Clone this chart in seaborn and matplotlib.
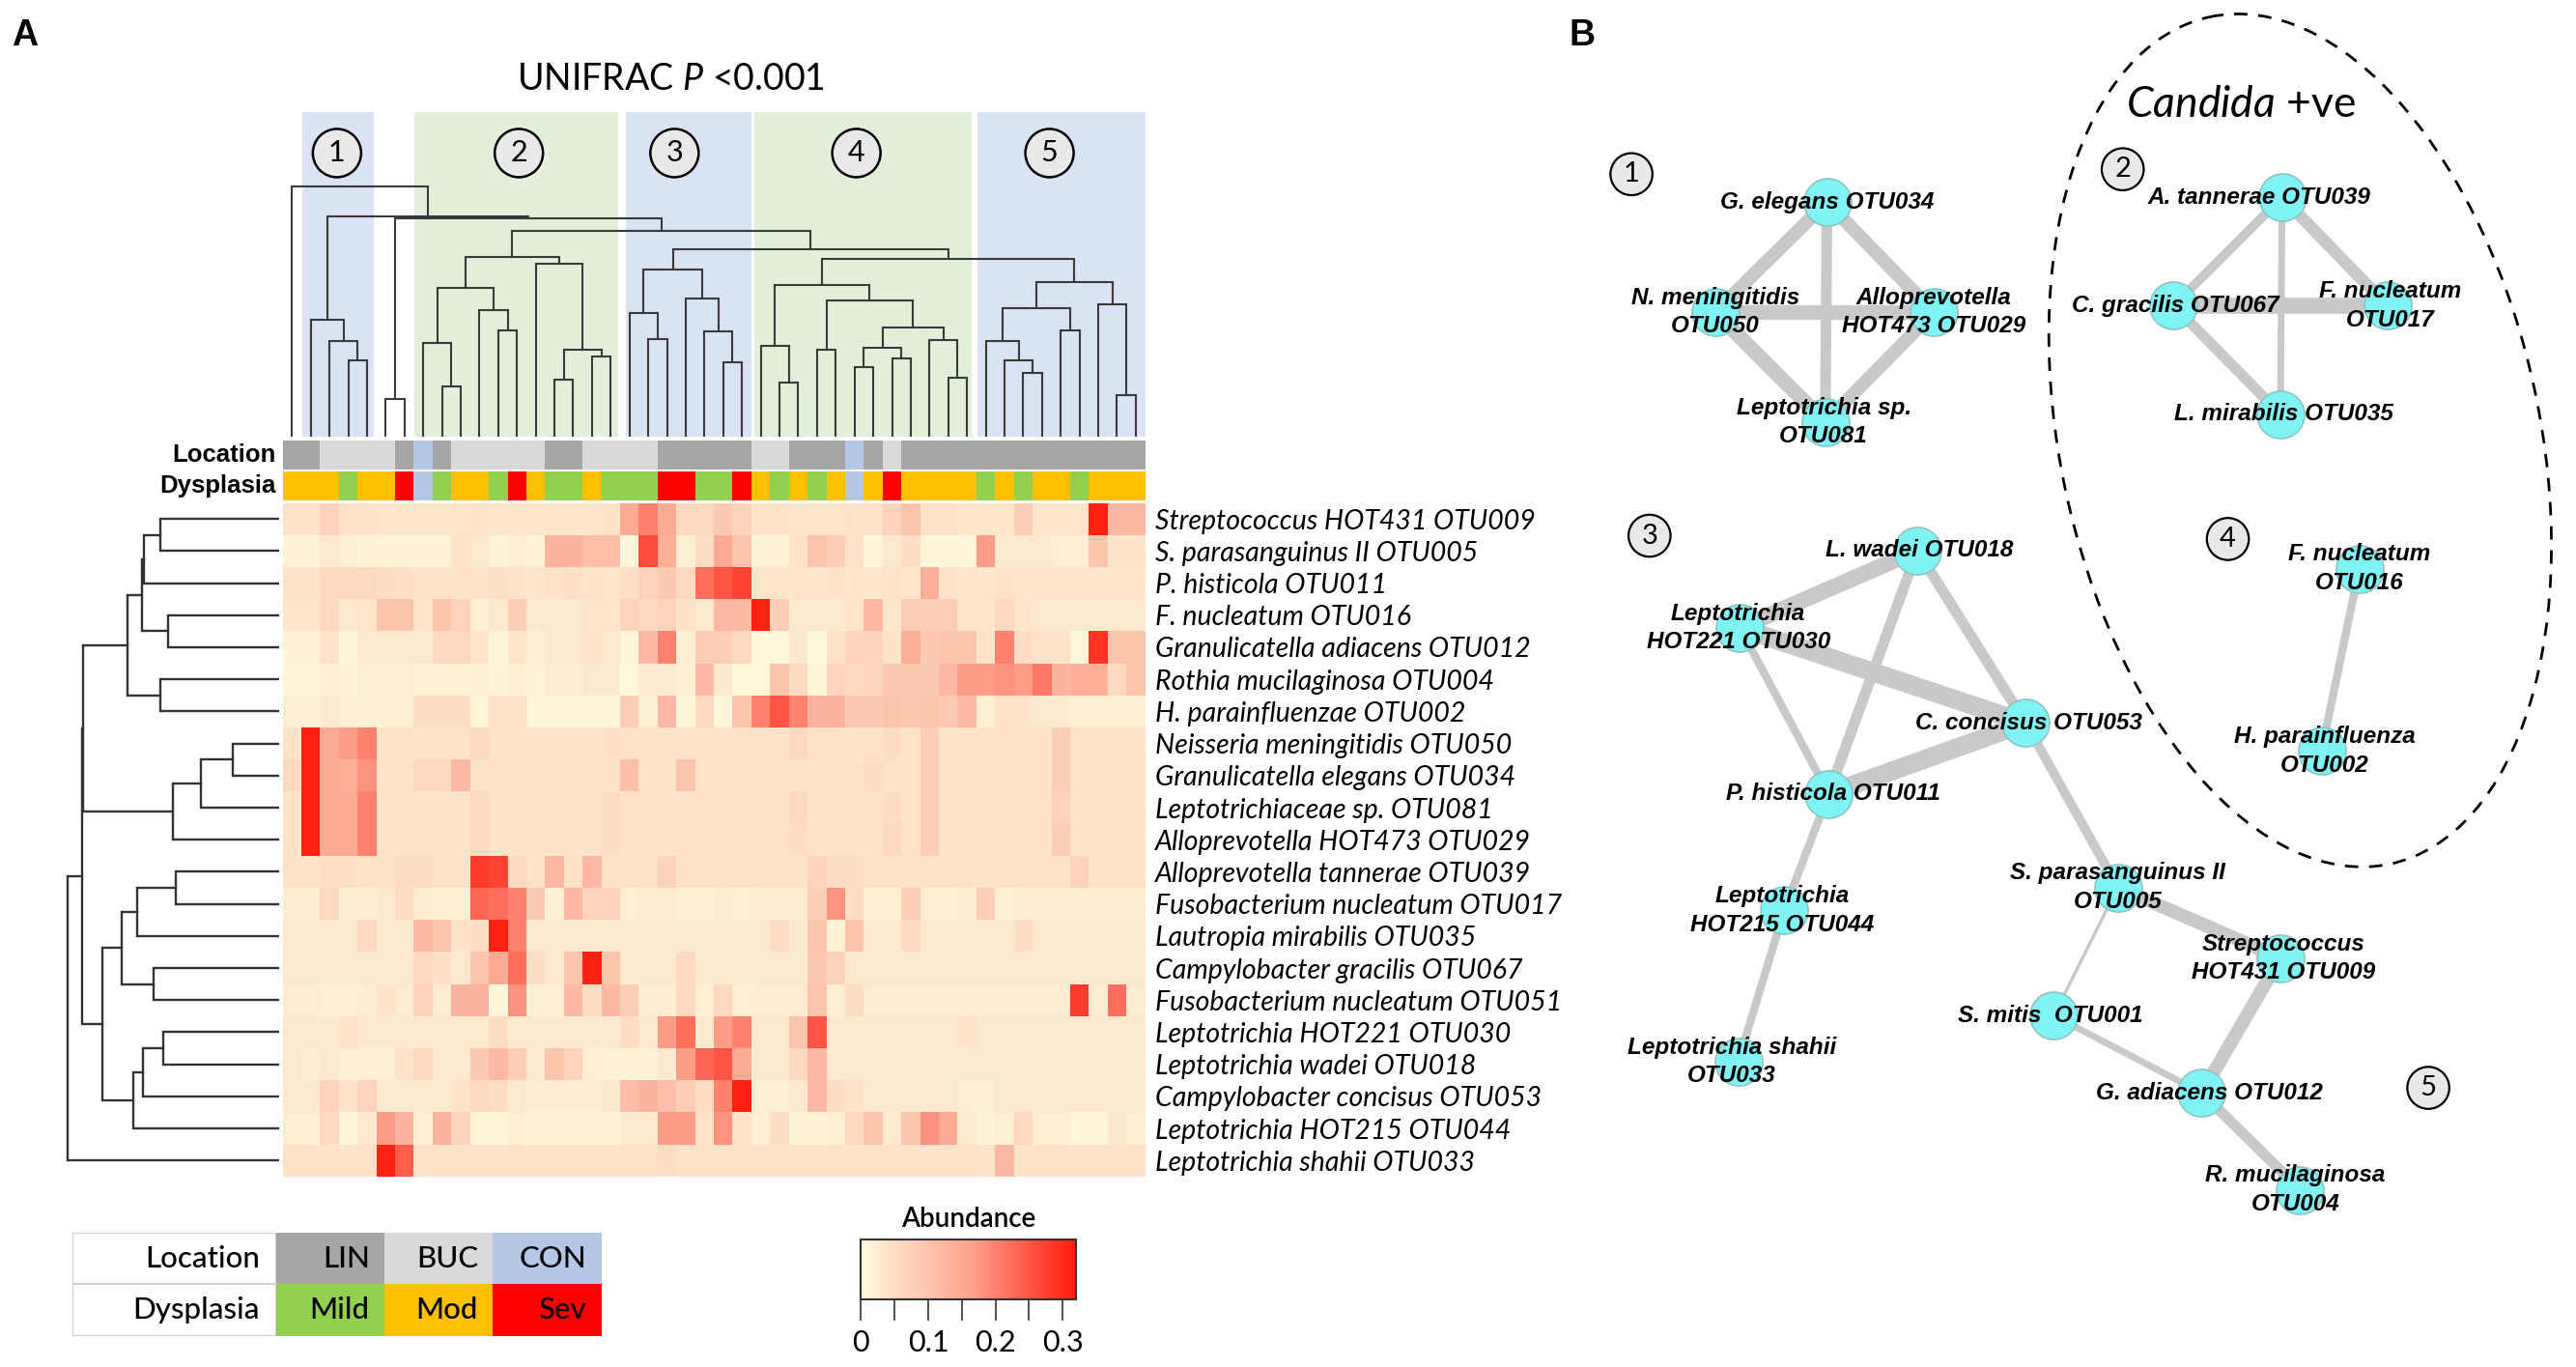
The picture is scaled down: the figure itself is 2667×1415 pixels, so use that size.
import numpy as np
import pandas as pd
import matplotlib
matplotlib.use("Agg")
import matplotlib.pyplot as plt
import seaborn as sns
from matplotlib.colors import LinearSegmentedColormap, ListedColormap
from matplotlib.patches import Rectangle, Ellipse
from matplotlib import font_manager as fm

# ---------------------------------------------------------------- data
row_labels = [
    "Streptococcus HOT431 OTU009", "S. parasanguinus II OTU005", "P. histicola OTU011",
    "F. nucleatum OTU016", "Granulicatella adiacens OTU012", "Rothia mucilaginosa OTU004",
    "H. parainfluenzae OTU002", "Neisseria meningitidis OTU050", "Granulicatella elegans OTU034",
    "Leptotrichiaceae sp. OTU081", "Alloprevotella HOT473 OTU029", "Alloprevotella tannerae OTU039",
    "Fusobacterium nucleatum OTU017", "Lautropia mirabilis OTU035", "Campylobacter gracilis OTU067",
    "Fusobacterium nucleatum OTU051", "Leptotrichia HOT221 OTU030", "Leptotrichia wadei OTU018",
    "Campylobacter concisus OTU053", "Leptotrichia HOT215 OTU044", "Leptotrichia shahii OTU033",
]

col_location = ['LIN','LIN','BUC','BUC','BUC','BUC','LIN','CON','LIN','BUC',
                'BUC','BUC','BUC','BUC','LIN','LIN','BUC','BUC','BUC','BUC',
                'LIN','LIN','LIN','LIN','LIN','BUC','BUC','LIN','LIN','LIN',
                'CON','LIN','BUC','LIN','LIN','LIN','LIN','LIN','LIN','LIN',
                'LIN','LIN','LIN','LIN','LIN','LIN']
col_dysplasia = ['Mod','Mod','Mod','Mild','Mod','Mod','Sev','CON','Mild','Mod',
                 'Mod','Mild','Sev','Mod','Mild','Mild','Mod','Mild','Mild','Mild',
                 'Sev','Sev','Mild','Mild','Sev','Mod','Mild','Mod','Mild','Mod',
                 'CON','Mod','Sev','Mod','Mod','Mod','Mod','Mild','Mod','Mild',
                 'Mod','Mod','Mild','Mod','Mod','Mod']

otu009 = [0.04,0.04,0.07,0.04,0.04,0.035,0.035,0.035,0.035,0.035, 0.04,0.035,0.035,0.035,0.035,0.035,0.035,0.04,0.15,0.20, 0.15,0.06,0.06,0.09,0.07,0.04,0.04,0.035,0.035,0.035, 0.04,0.04,0.07,0.10,0.04,0.04,0.035,0.035,0.035,0.08, 0.035,0.035,0.035,0.31,0.12,0.12]
otu005 = [0.015,0.015,0.03,0.02,0.015,0.015,0.015,0.015,0.015,0.04, 0.03,0.015,0.02,0.015,0.13,0.13,0.11,0.11,0.01,0.26, 0.14,0.02,0.05,0.15,0.10,0.015,0.015,0.04,0.10,0.08, 0.04,0.01,0.03,0.05,0.01,0.01,0.01,0.17,0.03,0.03, 0.03,0.02,0.02,0.10,0.04,0.04]
otu011 = [0.04,0.04,0.06,0.06,0.06,0.05,0.045,0.04,0.04,0.04, 0.04,0.045,0.04,0.035,0.04,0.045,0.04,0.035,0.045,0.07, 0.09,0.06,0.22,0.25,0.27,0.035,0.035,0.035,0.035,0.04, 0.035,0.035,0.04,0.035,0.14,0.04,0.035,0.035,0.04,0.035, 0.035,0.035,0.035,0.035,0.035,0.035]
otu016 = [0.035,0.035,0.06,0.03,0.035,0.10,0.10,0.035,0.10,0.07, 0.02,0.03,0.08,0.03,0.03,0.03,0.035,0.035,0.07,0.06, 0.07,0.04,0.03,0.12,0.12,0.31,0.08,0.03,0.03,0.03, 0.035,0.12,0.035,0.08,0.08,0.08,0.035,0.035,0.06,0.035, 0.03,0.03,0.03,0.03,0.03,0.03]
otu012 = [0.015,0.015,0.04,0.01,0.03,0.03,0.03,0.03,0.06,0.06, 0.035,0.01,0.035,0.02,0.03,0.03,0.04,0.03,0.01,0.12, 0.20,0.02,0.08,0.08,0.06,0.005,0.005,0.03,0.005,0.04, 0.07,0.07,0.04,0.14,0.09,0.10,0.10,0.04,0.20,0.05, 0.04,0.04,0.005,0.29,0.10,0.10]
otu004 = [0.01,0.01,0.02,0.015,0.02,0.02,0.02,0.015,0.015,0.015, 0.02,0.015,0.02,0.015,0.025,0.025,0.03,0.03,0.005,0.03, 0.03,0.02,0.12,0.03,0.005,0.005,0.10,0.06,0.01,0.07, 0.06,0.07,0.09,0.09,0.09,0.12,0.17,0.17,0.18,0.17, 0.21,0.13,0.14,0.14,0.06,0.10]
otu002 = [0.02,0.02,0.03,0.02,0.02,0.02,0.02,0.05,0.05,0.05, 0.01,0.04,0.04,0.01,0.01,0.01,0.01,0.01,0.08,0.02, 0.12,0.01,0.06,0.01,0.10,0.20,0.25,0.20,0.13,0.13, 0.09,0.09,0.10,0.09,0.10,0.09,0.12,0.02,0.04,0.04, 0.03,0.03,0.02,0.02,0.02,0.02]
otu050 = [0.04,0.31,0.15,0.17,0.20,0.04,0.04,0.04,0.04,0.04, 0.06,0.04,0.04,0.04,0.04,0.04,0.04,0.045,0.04,0.04, 0.04,0.04,0.04,0.04,0.04,0.04,0.04,0.06,0.04,0.04, 0.04,0.04,0.05,0.04,0.08,0.04,0.04,0.04,0.04,0.04, 0.04,0.08,0.04,0.04,0.04,0.04]
otu034 = [0.06,0.31,0.15,0.14,0.18,0.04,0.04,0.06,0.06,0.12, 0.04,0.04,0.04,0.04,0.04,0.04,0.04,0.04,0.11,0.04, 0.04,0.10,0.04,0.04,0.04,0.04,0.04,0.04,0.04,0.04, 0.04,0.05,0.04,0.04,0.08,0.04,0.04,0.04,0.04,0.04, 0.04,0.08,0.04,0.04,0.04,0.04]
otu081 = [0.04,0.31,0.15,0.15,0.20,0.04,0.04,0.04,0.04,0.04, 0.06,0.04,0.04,0.04,0.04,0.04,0.04,0.05,0.04,0.04, 0.04,0.04,0.04,0.04,0.04,0.04,0.04,0.06,0.04,0.04, 0.04,0.04,0.05,0.04,0.08,0.04,0.04,0.04,0.04,0.04, 0.04,0.07,0.04,0.04,0.04,0.04]
otu029 = [0.04,0.31,0.15,0.15,0.20,0.04,0.04,0.04,0.04,0.04, 0.06,0.04,0.04,0.04,0.04,0.04,0.04,0.05,0.04,0.04, 0.04,0.04,0.04,0.04,0.04,0.04,0.04,0.05,0.04,0.04, 0.04,0.04,0.06,0.04,0.08,0.04,0.04,0.04,0.04,0.04, 0.04,0.08,0.04,0.04,0.04,0.04]
otu039 = [0.04,0.04,0.045,0.045,0.04,0.04,0.05,0.05,0.04,0.04, 0.28,0.27,0.06,0.04,0.12,0.04,0.12,0.04,0.04,0.04, 0.07,0.04,0.04,0.04,0.04,0.04,0.04,0.04,0.07,0.05, 0.05,0.04,0.04,0.04,0.04,0.04,0.04,0.04,0.04,0.04, 0.04,0.04,0.07,0.04,0.04,0.04]
otu017 = [0.025,0.025,0.06,0.025,0.025,0.03,0.05,0.025,0.02,0.02, 0.23,0.22,0.20,0.09,0.02,0.12,0.07,0.07,0.02,0.025, 0.025,0.02,0.02,0.025,0.02,0.025,0.025,0.025,0.08,0.18, 0.05,0.02,0.02,0.08,0.02,0.02,0.025,0.08,0.02,0.025, 0.025,0.025,0.025,0.025,0.025,0.025]
otu035 = [0.03,0.03,0.03,0.03,0.06,0.03,0.03,0.12,0.10,0.04, 0.05,0.31,0.20,0.03,0.03,0.03,0.03,0.03,0.03,0.03, 0.03,0.03,0.03,0.03,0.03,0.03,0.05,0.03,0.10,0.015, 0.10,0.03,0.03,0.06,0.03,0.03,0.03,0.03,0.03,0.05, 0.03,0.03,0.03,0.03,0.03,0.03]
otu067 = [0.03,0.03,0.03,0.03,0.03,0.03,0.03,0.06,0.045,0.03, 0.10,0.15,0.22,0.05,0.03,0.10,0.31,0.10,0.03,0.03, 0.03,0.06,0.03,0.03,0.03,0.03,0.03,0.03,0.09,0.07, 0.03,0.03,0.03,0.03,0.03,0.03,0.03,0.03,0.03,0.03, 0.03,0.03,0.03,0.03,0.03,0.03]
otu051 = [0.025,0.025,0.02,0.02,0.025,0.04,0.025,0.07,0.025,0.13, 0.13,0.01,0.18,0.02,0.02,0.12,0.05,0.12,0.08,0.025, 0.025,0.06,0.02,0.06,0.02,0.025,0.025,0.025,0.10,0.02, 0.05,0.025,0.025,0.025,0.025,0.025,0.025,0.025,0.025,0.025, 0.025,0.025,0.28,0.025,0.22,0.025]
otu030 = [0.03,0.03,0.03,0.04,0.03,0.03,0.03,0.03,0.03,0.03, 0.03,0.05,0.03,0.03,0.03,0.03,0.03,0.03,0.05,0.03, 0.17,0.22,0.03,0.17,0.20,0.03,0.03,0.10,0.25,0.03, 0.03,0.03,0.03,0.03,0.03,0.03,0.04,0.03,0.03,0.03, 0.03,0.03,0.03,0.03,0.03,0.03]
otu018 = [0.03,0.025,0.03,0.02,0.02,0.02,0.04,0.06,0.03,0.03, 0.09,0.12,0.08,0.03,0.10,0.07,0.02,0.015,0.015,0.015, 0.03,0.17,0.23,0.25,0.15,0.03,0.03,0.06,0.12,0.03, 0.03,0.03,0.03,0.03,0.03,0.03,0.03,0.03,0.03,0.03, 0.03,0.03,0.03,0.03,0.03,0.03]
otu053 = [0.03,0.03,0.07,0.04,0.07,0.03,0.03,0.03,0.03,0.04, 0.06,0.05,0.03,0.025,0.025,0.025,0.025,0.03,0.11,0.13, 0.11,0.08,0.05,0.20,0.31,0.02,0.02,0.03,0.12,0.05, 0.04,0.03,0.03,0.03,0.03,0.03,0.02,0.02,0.03,0.03, 0.03,0.03,0.03,0.03,0.03,0.03]
otu044 = [0.02,0.02,0.06,0.01,0.03,0.17,0.13,0.02,0.13,0.07, 0.01,0.01,0.02,0.015,0.015,0.015,0.015,0.015,0.03,0.03, 0.17,0.17,0.04,0.18,0.04,0.02,0.05,0.015,0.015,0.02, 0.06,0.10,0.03,0.10,0.18,0.15,0.03,0.015,0.02,0.06, 0.02,0.02,0.01,0.01,0.03,0.02]
otu033 = [0.04,0.04,0.04,0.04,0.04,0.31,0.24,0.04,0.04,0.04, 0.04,0.04,0.04,0.04,0.04,0.04,0.04,0.04,0.04,0.04, 0.05,0.04,0.04,0.04,0.04,0.04,0.04,0.04,0.04,0.04, 0.04,0.04,0.04,0.04,0.04,0.04,0.04,0.04,0.12,0.04, 0.04,0.04,0.04,0.04,0.04,0.04]

heat_rows = [otu009, otu005, otu011, otu016, otu012, otu004, otu002, otu050, otu034, otu081,
             otu029, otu039, otu017, otu035, otu067, otu051, otu030, otu018, otu053, otu044, otu033]

# sample dendrogram: (node, left, right, height); ints are leaf columns
col_tree = [
    ('a1', 3, 4, 238), ('a2', 2, 'a1', 298), ('C1', 1, 'a2', 363), ('C56', 5, 6, 118),
    ('b1', 8, 9, 157), ('b2', 7, 'b1', 293), ('b3', 11, 12, 330), ('b4', 10, 'b3', 392),
    ('b5', 'b2', 'b4', 462), ('b6', 16, 17, 250), ('b7', 14, 15, 178), ('b8', 'b7', 'b6', 270),
    ('b9', 13, 'b8', 538), ('C2', 'b5', 'b9', 558),
    ('c1', 19, 20, 305), ('c2', 18, 'c1', 385), ('c3', 23, 24, 232), ('c4', 22, 'c3', 328),
    ('c5', 21, 'c4', 430), ('C3', 'c2', 'c5', 518),
    ('d1', 26, 27, 168), ('d2', 25, 'd1', 282), ('d3', 28, 29, 270), ('d4', 30, 31, 218),
    ('d5', 32, 33, 245), ('d6', 'd4', 'd5', 277), ('d7', 35, 36, 184), ('d8', 34, 'd7', 300),
    ('d9', 'd6', 'd8', 340), ('d10', 'd3', 'd9', 422), ('C4', 'd2', 'd10', 472),
    ('e1', 39, 40, 198), ('e2', 38, 'e1', 238), ('e3', 37, 'e2', 298), ('e4', 41, 42, 330),
    ('e5', 'e3', 'e4', 400), ('e6', 44, 45, 130), ('e7', 43, 'e6', 410), ('C5', 'e5', 'e7', 480),
    ('C45', 'C4', 'C5', 553), ('C345', 'C3', 'C45', 583), ('C2345', 'C2', 'C345', 638),
    ('C56x', 'C56', 'C2345', 678), ('C1x', 'C1', 'C56x', 685), ('root', 0, 'C1x', 778),
]
# OTU dendrogram
row_tree = [
    ('r1', 0, 1, 385), ('r2', 'r1', 2, 438), ('r3', 3, 4, 358), ('r4', 'r2', 'r3', 442),
    ('r5', 5, 6, 385), ('r6', 'r4', 'r5', 490), ('r7', 7, 8, 150), ('r8', 'r7', 9, 252),
    ('r9', 'r8', 10, 342), ('r10', 'r6', 'r9', 632), ('r11', 11, 12, 335), ('r12', 'r11', 13, 460),
    ('r13', 14, 15, 405), ('r14', 'r12', 'r13', 508), ('r15', 16, 17, 375), ('r16', 'r15', 18, 440),
    ('r17', 'r16', 19, 472), ('r18', 'r14', 'r17', 572), ('r19', 'r10', 'r18', 638),
    ('r20', 'r19', 20, 682),
]
cluster_ids = ['1', '2', '3', '4', '5']
cluster_span = [(1.05, 4.85), (7.05, 17.9), (18.3, 25.0), (25.15, 36.75), (37.05, 46.0)]
cluster_mark = [2.9, 12.6, 20.9, 30.6, 40.9]

loc_levels = ['LIN', 'BUC', 'CON']
dys_levels = ['Mild', 'Mod', 'Sev']

# network (panel B)
net_nodes = ['OTU034','OTU050','OTU029','OTU081','OTU039','OTU067','OTU017','OTU035',
             'OTU018','OTU030','OTU053','OTU011','OTU044','OTU033','OTU005','OTU009',
             'OTU001','OTU012','OTU004','OTU016','OTU002']
net_labels = ['G. elegans OTU034','N. meningitidis\nOTU050','Alloprevotella\nHOT473 OTU029',
              'Leptotrichia sp.\nOTU081','A. tannerae OTU039','C. gracilis OTU067',
              'F. nucleatum\nOTU017','L. mirabilis OTU035','L. wadei OTU018',
              'Leptotrichia\nHOT221 OTU030','C. concisus OTU053','P. histicola OTU011',
              'Leptotrichia\nHOT215 OTU044','Leptotrichia shahii\nOTU033',
              'S. parasanguinus II\nOTU005','Streptococcus\nHOT431 OTU009','S. mitis  OTU001',
              'G. adiacens OTU012','R. mucilaginosa\nOTU004','F. nucleatum\nOTU016',
              'H. parainfluenza\nOTU002']
net_x = [1112, 1044, 1177, 1111, 1389, 1323, 1453, 1388, 1167, 1059, 1233, 1113, 1086, 1058,
         1289, 1388, 1250, 1340, 1400, 1436, 1413]
net_y = [123, 190, 190, 257, 120, 186, 186, 252, 335, 382, 440, 483, 554, 646, 540, 583, 618,
         665, 724, 346, 457]
label_dx = [0, 0, 0, -1, -14, 1, 2, 2, 1, -1, 2, 3, -1, -4, 0, 2, -2, 5, -3, 0, 2]
net_edges = [('OTU034','OTU050',10), ('OTU034','OTU029',10), ('OTU034','OTU081',8),
             ('OTU050','OTU029',11), ('OTU050','OTU081',11), ('OTU029','OTU081',10),
             ('OTU039','OTU067',7), ('OTU039','OTU017',9), ('OTU039','OTU035',5),
             ('OTU067','OTU017',12), ('OTU067','OTU035',8),
             ('OTU018','OTU030',12), ('OTU018','OTU011',8), ('OTU018','OTU053',8),
             ('OTU030','OTU053',14), ('OTU030','OTU011',6), ('OTU011','OTU053',14),
             ('OTU011','OTU044',6), ('OTU044','OTU033',6), ('OTU053','OTU005',7),
             ('OTU005','OTU001',2.5), ('OTU005','OTU009',10), ('OTU001','OTU012',5),
             ('OTU009','OTU012',10), ('OTU012','OTU004',8), ('OTU016','OTU002',6)]
net_groups = ['1', '2', '3', '4', '5']
net_group_x = [993, 1292, 1004, 1356, 1478]
net_group_y = [106, 103, 326, 328, 662]

# ---------------------------------------------------------------- style
plt.rcParams['font.family'] = ['Lato', 'DejaVu Sans']
plt.rcParams['mathtext.fontset'] = 'custom'
plt.rcParams['mathtext.rm'] = 'Lato'
plt.rcParams['mathtext.it'] = 'Lato:italic'
plt.rcParams['mathtext.bf'] = 'Lato:bold'

def has_font(name):
    try:
        fm.findfont(fm.FontProperties(family=name), fallback_to_default=False)
        return True
    except Exception:
        return False

NARROW = has_font('Liberation Sans Narrow')
net_family = ['Liberation Sans Narrow'] if NARROW else ['Liberation Sans']
net_fs = 20 if NARROW else 17.5

C_LOC = {'LIN': '#A6A6A6', 'BUC': '#D9D9D9', 'CON': '#B4C7E7'}
C_DYS = {'Mild': '#92D050', 'Mod': '#FFC000', 'Sev': '#FF0000', 'CON': '#B4C7E7'}
BAND = ['#DAE3F3', '#E2EFDA']
cmap = LinearSegmentedColormap.from_list('abund', [(0, '#FFFBE0'), (0.12, '#FDE4CA'),
                                                   (0.5, '#FDA590'), (1.0, '#FF1A0A')])

W, H = 2667, 1415
S = 1.701
fig = plt.figure(figsize=(W / 100, H / 100), dpi=100)
fig.patch.set_facecolor('white')

def ax_at(x0, y0, x1, y1):
    return fig.add_axes([x0 * S / W, 1 - y1 * S / H, (x1 - x0) * S / W, (y1 - y0) * S / H])

def fxy(x, y):
    return x * S / W, 1 - y * S / H

# ---------------------------------------------------------------- heatmap
df = pd.DataFrame(heat_rows, index=row_labels)
axh = ax_at(172, 306, 697, 716)
cax = ax_at(524, 754, 655, 791)
sns.heatmap(df, ax=axh, cmap=cmap, vmin=0, vmax=0.32, cbar_ax=cax,
            cbar_kws=dict(orientation='horizontal', ticks=[0, 0.1, 0.2, 0.3]),
            xticklabels=False, yticklabels=True)
axh.set_yticks(np.arange(len(row_labels)) + 0.5)
axh.set_yticklabels(row_labels, rotation=0, fontstyle='italic', fontsize=20.5)
axh.tick_params(axis='y', left=False, right=False, labelleft=False, labelright=True, pad=4)
axh.set_xlabel(''); axh.set_ylabel('')

cbar = axh.collections[0].colorbar
cbar.outline.set_edgecolor('#333333'); cbar.outline.set_linewidth(1.5)
cax.set_xticks([0, 0.1, 0.2, 0.3])
cax.set_xticklabels(['0', '0.1', '0.2', '0.3'], fontsize=22)
cax.set_xticks([0.05, 0.15, 0.25], minor=True)
cax.tick_params(axis='x', which='both', length=16, width=1.3, color='#444444', pad=6)
cax.text(0.5, 1.12, 'Abundance', transform=cax.transAxes, ha='center', va='bottom',
         fontsize=20, fontweight='semibold')

# ---------------------------------------------------------------- annotation bars
loc_codes = np.array([[['LIN', 'BUC', 'CON'].index(v) for v in col_location]])
dys_codes = np.array([[['Mild', 'Mod', 'Sev', 'CON'].index(v) for v in col_dysplasia]])
axl = ax_at(172, 268, 697, 286)
sns.heatmap(loc_codes, ax=axl, cmap=ListedColormap([C_LOC[k] for k in ['LIN', 'BUC', 'CON']]),
            vmin=-0.5, vmax=2.5, cbar=False, xticklabels=False, yticklabels=False)
axd = ax_at(172, 287, 697, 304.5)
sns.heatmap(dys_codes, ax=axd,
            cmap=ListedColormap([C_DYS[k] for k in ['Mild', 'Mod', 'Sev', 'CON']]),
            vmin=-0.5, vmax=3.5, cbar=False, xticklabels=False, yticklabels=False)
for lab, yy in (('Location', 277), ('Dysplasia', 296)):
    fig.text(*fxy(168, yy), lab, ha='right', va='center', fontsize=18.5, fontweight='bold',
             family=['Liberation Sans', 'DejaVu Sans'])

# ---------------------------------------------------------------- dendrograms
def draw_tree(ax, merges, orient, color, lw):
    pos, hgt = {}, {}
    def get(k):
        if isinstance(k, int):
            return k + 0.5, 0.0
        return pos[k], hgt[k]
    for name, a, b, h in merges:
        xa, ha = get(a)
        xb, hb = get(b)
        xs, hs = [xa, xa, xb, xb], [ha, h, h, hb]
        if orient == 'top':
            ax.plot(xs, hs, color=color, lw=lw, solid_joinstyle='miter', zorder=3)
        else:
            ax.plot(hs, xs, color=color, lw=lw, solid_joinstyle='miter', zorder=3)
        pos[name], hgt[name] = (xa + xb) / 2, h

axt = ax_at(172, 68, 697, 266)
for (x0, x1), c in zip(cluster_span, [BAND[0], BAND[1], BAND[0], BAND[1], BAND[0]]):
    axt.axvspan(x0, x1, color=c, zorder=0, lw=0)
draw_tree(axt, col_tree, 'top', '#3A3A3A', 1.5)
for cid, cx in zip(cluster_ids, cluster_mark):
    axt.text(cx, 880, cid, ha='center', va='center', fontsize=22, zorder=5,
             bbox=dict(boxstyle='circle,pad=0.36', fc='#E9E9E9', ec='black', lw=1.8))
axt.set_xlim(0, 46); axt.set_ylim(0, 1008)
axt.axis('off')

axr = ax_at(38, 306, 170, 716)
draw_tree(axr, row_tree, 'left', '#333333', 1.7)
axr.set_xlim(700, 0); axr.set_ylim(len(row_labels), 0)
axr.axis('off')

fig.text(*fxy(408, 48), r'UNIFRAC $\it{P}$ <0.001', ha='center', va='center', fontsize=27)

# ---------------------------------------------------------------- legend table
axg = ax_at(44, 750, 366, 813)
axg.set_xlim(44, 366); axg.set_ylim(813, 750); axg.axis('off')
col_edges = [44, 168, 234, 300, 366]
row_edges = [750, 781.5, 813]
for ri, (title, levels, cdict) in enumerate((('Location', loc_levels, C_LOC),
                                             ('Dysplasia', dys_levels, C_DYS))):
    y0, y1 = row_edges[ri], row_edges[ri + 1]
    axg.add_patch(Rectangle((col_edges[0], y0), col_edges[1] - col_edges[0], y1 - y0,
                            fc='white', ec='#D0D0D0', lw=1.5))
    axg.text(col_edges[1] - 10, (y0 + y1) / 2, title, ha='right', va='center', fontsize=22.5,
             fontweight='medium')
    for ci, lev in enumerate(levels):
        xa, xb = col_edges[ci + 1], col_edges[ci + 2]
        axg.add_patch(Rectangle((xa, y0), xb - xa, y1 - y0, fc=cdict[lev], ec='none'))
        axg.text(xb - 9, (y0 + y1) / 2, lev, ha='right', va='center', fontsize=22.5,
                 fontweight='medium')

# ---------------------------------------------------------------- panel letters
fig.text(*fxy(15, 22), 'A', ha='center', va='center', fontsize=27, fontweight='bold',
         family=['Liberation Sans', 'DejaVu Sans'])
fig.text(*fxy(963, 22), 'B', ha='center', va='center', fontsize=27, fontweight='bold',
         family=['Liberation Sans', 'DejaVu Sans'])

# ---------------------------------------------------------------- network panel B
axb = fig.add_axes([960 * S / W, 0, 1 - 960 * S / W, 1])
idx = {n: i for i, n in enumerate(net_nodes)}
for a, b, w in net_edges:
    ia, ib = idx[a], idx[b]
    axb.plot([net_x[ia], net_x[ib]], [net_y[ia], net_y[ib]], color='#C9C9C9', lw=w,
             solid_capstyle='butt', zorder=1)
sns.scatterplot(x=net_x, y=net_y, ax=axb, s=1250, color='#80F4F5', edgecolor='#8FC3C4',
                linewidth=1.2, zorder=2, legend=False)
for lab, x, y, dx in zip(net_labels, net_x, net_y, label_dx):
    axb.text(x + dx, y, lab, ha='center', va='center', fontsize=net_fs, fontweight='bold',
             fontstyle='italic', family=net_family + ['DejaVu Sans'], linespacing=1.35, zorder=3)
for g, x, y in zip(net_groups, net_group_x, net_group_y):
    axb.text(x, y, g, ha='center', va='center', fontsize=21, zorder=4,
             bbox=dict(boxstyle='circle,pad=0.3', fc='#E9E9E9', ec='black', lw=1.6))
axb.add_patch(Ellipse((1400, 268), 292, 527, angle=-12, fill=False, ec='black', lw=2,
                      ls=(0, (5, 4)), zorder=0))
axb.text(1364, 64, r'$\it{Candida}$ +ve', ha='center', va='center', fontsize=32)
axb.set_xlim(960, W / S); axb.set_ylim(H / S, 0)
axb.axis('off')

fig.savefig('out.png', dpi=100)
